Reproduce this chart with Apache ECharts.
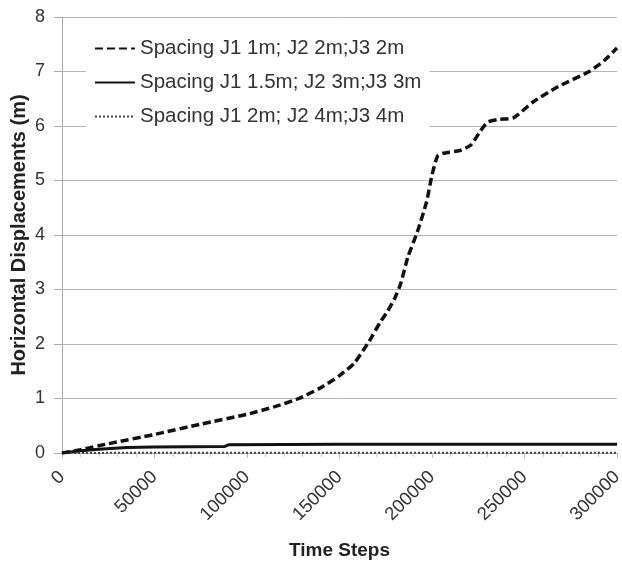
<!DOCTYPE html>
<html>
<head>
<meta charset="utf-8">
<script src="https://cdn.jsdelivr.net/npm/echarts@6/dist/echarts.min.js"></script>
<style>
  html, body { margin: 0; padding: 0; background: #fff; }
  #chart { width: 622px; height: 562px; }
</style>
</head>
<body>
<div id="chart"></div>
<script>
// Series labels
const seriesNames = [
  'Spacing J1 1m; J2 2m;J3 2m',
  'Spacing J1 1.5m; J2 3m;J3 3m',
  'Spacing J1 2m; J2 4m;J3 4m'
];

// Spacing J1 1m: time step vs horizontal displacement (m)
const dashedSteps = [0, 10000, 25000, 50000, 75000, 100000, 115000, 128000, 140000, 150000, 158000, 166000, 172000, 176000, 180000, 183000, 187000, 192000, 197000, 200000, 203000, 206000, 215000, 221000, 226000, 230000, 236000, 244000, 255000, 268000, 285000, 293000, 300000];
const dashedDisp  = [0, 0.06, 0.17, 0.34, 0.53, 0.71, 0.85, 1.0, 1.2, 1.42, 1.65, 2.05, 2.4, 2.6, 2.85, 3.1, 3.6, 4.05, 4.6, 5.1, 5.45, 5.5, 5.55, 5.65, 5.9, 6.07, 6.12, 6.15, 6.45, 6.72, 7.0, 7.2, 7.43];

// Spacing J1 1.5m
const solidSteps = [0, 10000, 20000, 35000, 50000, 88000, 90000, 150000, 300000];
const solidDisp  = [0, 0.04, 0.07, 0.1, 0.11, 0.12, 0.15, 0.16, 0.16];

// Spacing J1 2m
const dottedSteps = [0, 50000, 100000, 150000, 200000, 250000, 300000];
const dottedDisp  = [0, 0.005, 0.005, 0.005, 0.005, 0.005, 0.005];

// Axis ticks
const xTicks = { min: 0, max: 300000, step: 50000 };
const yTicks = { min: 0, max: 8, step: 1 };

const pair = (xs, ys) => xs.map((x, i) => [x, ys[i]]);

const chart = echarts.init(document.getElementById('chart'), null, { renderer: 'canvas' });
const font = 'Liberation Sans, Arial, sans-serif';

chart.setOption({
  animation: false,
  backgroundColor: '#fff',
  textStyle: { fontFamily: font },
  grid: { left: 62, right: 5, top: 17, bottom: 109, containLabel: false, outerBoundsMode: 'none' },
  legend: {
    orient: 'vertical',
    left: 86,
    top: 28,
    padding: [10, 8, 10, 8],
    backgroundColor: '#fff',
    itemWidth: 40,
    itemHeight: 14,
    itemGap: 13,
    itemStyle: { opacity: 0 },
    textStyle: { fontFamily: font, fontSize: 20.5, color: '#333' },
    data: seriesNames
  },
  xAxis: {
    type: 'value',
    min: xTicks.min,
    max: xTicks.max,
    interval: xTicks.step,
    name: 'Time Steps',
    nameLocation: 'middle',
    nameGap: 88,
    nameMoveOverlap: false,
    nameTextStyle: { fontFamily: font, fontSize: 19, fontWeight: 'bold', color: '#222' },
    axisLine: { show: true, lineStyle: { color: '#aaa' } },
    axisTick: { show: true, length: 5, lineStyle: { color: '#bbb' } },
    minorTick: { show: true, splitNumber: 5, length: 4, lineStyle: { color: '#ccc' } },
    splitLine: { show: false },
    axisLabel: {
      rotate: 45, fontSize: 18.5, color: '#333', margin: 21, showMaxLabel: true, fontFamily: font,
      formatter: v => String(v)
    }
  },
  yAxis: {
    type: 'value',
    min: yTicks.min,
    max: yTicks.max,
    interval: yTicks.step,
    name: 'Horizontal Displacements (m)',
    nameLocation: 'middle',
    nameGap: 33,
    nameMoveOverlap: false,
    nameTextStyle: { fontFamily: font, fontSize: 20, fontWeight: 'bold', color: '#222' },
    axisLine: { show: true, lineStyle: { color: '#aaa' } },
    axisTick: { show: true, length: 8, lineStyle: { color: '#aaa' } },
    splitLine: { show: true, lineStyle: { color: '#b5b5b5', width: 1 } },
    axisLabel: { fontSize: 18, color: '#333', margin: 17, fontFamily: font }
  },
  series: [
    {
      name: seriesNames[0],
      type: 'line',
      symbol: 'none',
      smooth: 0.2,
      data: pair(dashedSteps, dashedDisp),
      lineStyle: { color: '#111', width: 3.5, type: [8, 4] },
      itemStyle: { color: '#111' },
      z: 3
    },
    {
      name: seriesNames[1],
      type: 'line',
      symbol: 'none',
      data: pair(solidSteps, solidDisp),
      lineStyle: { color: '#111', width: 3, type: 'solid' },
      itemStyle: { color: '#111' },
      z: 2
    },
    {
      name: seriesNames[2],
      type: 'line',
      symbol: 'none',
      data: pair(dottedSteps, dottedDisp),
      lineStyle: { color: '#444', width: 2, type: [2, 2] },
      itemStyle: { color: '#444' },
      z: 2
    }
  ]
});
</script>
</body>
</html>
